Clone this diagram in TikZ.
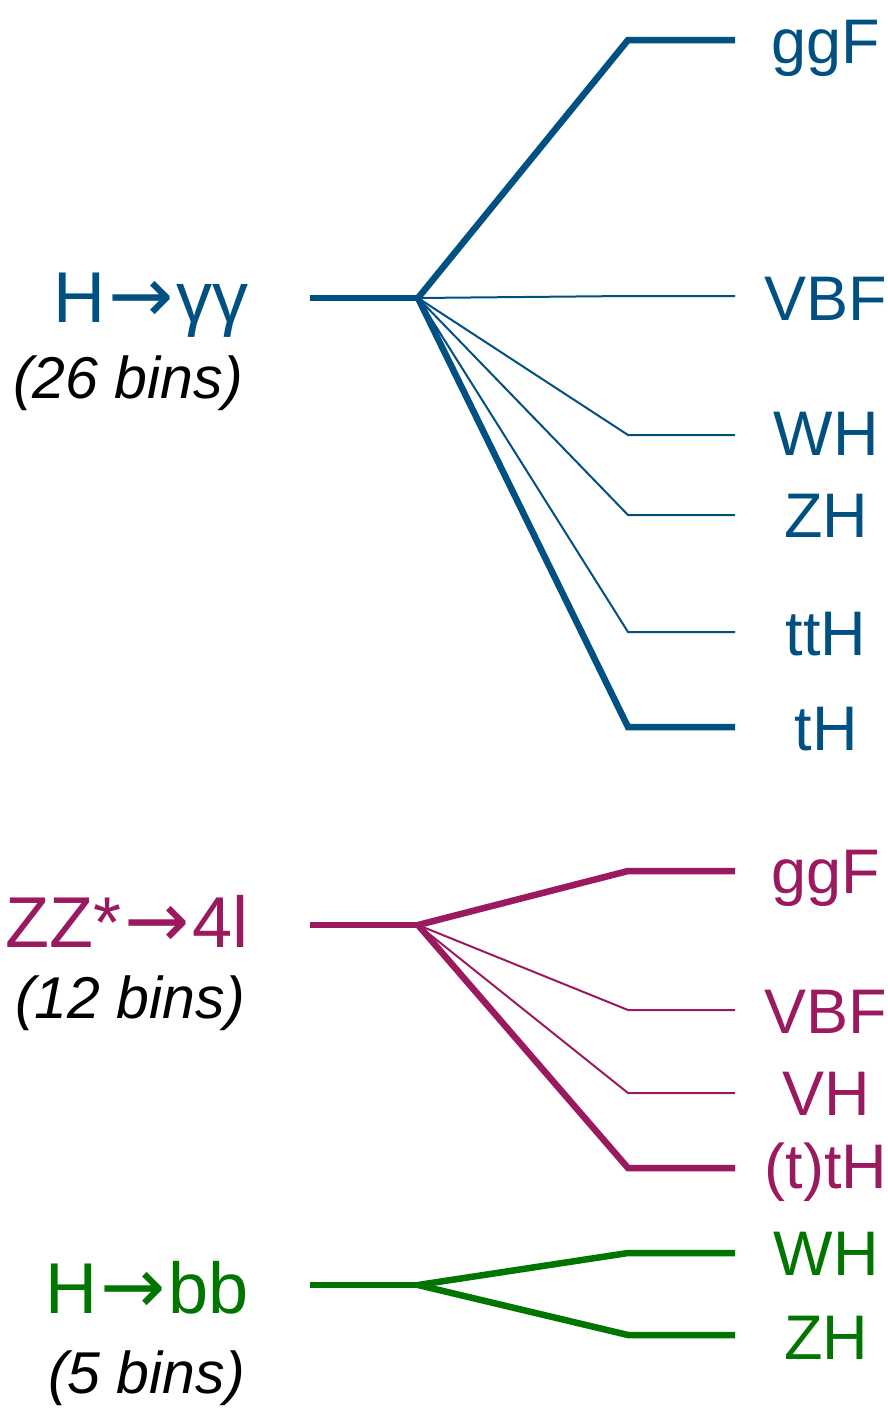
\documentclass[tikz,border=0pt]{standalone}
\usepackage{fontspec}
\setmainfont{Liberation Sans}
\newfontfamily\arrowfont{DejaVu Sans}
\definecolor{hblue}{RGB}{0,80,130}
\definecolor{hmag}{RGB}{155,25,95}
\definecolor{hgreen}{RGB}{0,118,0}
\newcommand{\harr}{\hspace{3pt}{\arrowfont\fontsize{78}{80}\selectfont →}\hspace{3pt}}
\begin{document}
\begin{tikzpicture}[x=1pt,y=-1pt,
  heavy/.style={line width=6.5pt},
  light/.style={line width=2pt},
  lab/.style={anchor=base,inner sep=0pt,font=\fontsize{63}{70}\selectfont},
  mainlab/.style={anchor=base east,inner sep=0pt,font=\fontsize{72}{80}\selectfont},
  bins/.style={anchor=base east,inner sep=0pt,text=black,font=\fontsize{59}{66}\selectfont\itshape}]
\useasboundingbox (0,0) rectangle (888,1408);

% ---------- H -> gamma gamma ----------
\node[mainlab,text=hblue] (ma) at (249,322) {H\harr γγ};
\node[bins] (ba) at (243,398) {(26 bins)};
\coordinate (sa) at (310,298);
\coordinate (ja) at (418,298);
\draw[hblue,heavy] (sa) -- (ja);
\coordinate (ka1) at (628,40);  \coordinate (ea1) at (735,40);
\coordinate (ka2) at (628,296); \coordinate (ea2) at (735,296);
\coordinate (ka3) at (628,435); \coordinate (ea3) at (735,435);
\coordinate (ka4) at (628,515); \coordinate (ea4) at (735,515);
\coordinate (ka5) at (628,632); \coordinate (ea5) at (735,632);
\coordinate (ka6) at (628,727); \coordinate (ea6) at (735,727);
\draw[hblue,heavy] (ja) -- (ka1) -- (ea1);
\draw[hblue,light] (ja) -- (ka2) -- (ea2);
\draw[hblue,light] (ja) -- (ka3) -- (ea3);
\draw[hblue,light] (ja) -- (ka4) -- (ea4);
\draw[hblue,light] (ja) -- (ka5) -- (ea5);
\draw[hblue,heavy] (ja) -- (ka6) -- (ea6);
\node[lab,text=hblue] (la1) at (826,63) {ggF};
\node[lab,text=hblue] (la2) at (826,320) {VBF};
\node[lab,text=hblue] (la3) at (826,455) {WH};
\node[lab,text=hblue] (la4) at (826,537) {ZH};
\node[lab,text=hblue] (la5) at (826,655) {ttH};
\node[lab,text=hblue] (la6) at (826,750) {tH};

% ---------- H -> ZZ* -> 4l ----------
\node[mainlab,text=hmag] (mb) at (249,947) {H\harr ZZ*\harr 4l};
\node[bins] (bb) at (245,1018) {(12 bins)};
\coordinate (sb) at (310,925);
\coordinate (jb) at (418,925);
\draw[hmag,heavy] (sb) -- (jb);
\coordinate (kb1) at (628,871);  \coordinate (eb1) at (735,871);
\coordinate (kb2) at (628,1010); \coordinate (eb2) at (735,1010);
\coordinate (kb3) at (628,1093); \coordinate (eb3) at (735,1093);
\coordinate (kb4) at (628,1168); \coordinate (eb4) at (735,1168);
\draw[hmag,heavy] (jb) -- (kb1) -- (eb1);
\draw[hmag,light] (jb) -- (kb2) -- (eb2);
\draw[hmag,light] (jb) -- (kb3) -- (eb3);
\draw[hmag,heavy] (jb) -- (kb4) -- (eb4);
\node[lab,text=hmag] (lb1) at (826,893) {ggF};
\node[lab,text=hmag] (lb2) at (826,1033) {VBF};
\node[lab,text=hmag] (lb3) at (826,1115) {VH};
\node[lab,text=hmag] (lb4) at (826,1188) {(t)tH};

% ---------- H -> bb ----------
\node[mainlab,text=hgreen] (mc) at (249,1313) {H\harr bb};
\node[bins] (bc) at (245,1393) {(5 bins)};
\coordinate (sc) at (310,1285);
\coordinate (jc) at (418,1285);
\draw[hgreen,heavy] (sc) -- (jc);
\coordinate (kc1) at (628,1253); \coordinate (ec1) at (735,1253);
\coordinate (kc2) at (628,1335); \coordinate (ec2) at (735,1335);
\draw[hgreen,heavy] (jc) -- (kc1) -- (ec1);
\draw[hgreen,heavy] (jc) -- (kc2) -- (ec2);
\node[lab,text=hgreen] (lc1) at (826,1275) {WH};
\node[lab,text=hgreen] (lc2) at (826,1359) {ZH};
\end{tikzpicture}
\end{document}
